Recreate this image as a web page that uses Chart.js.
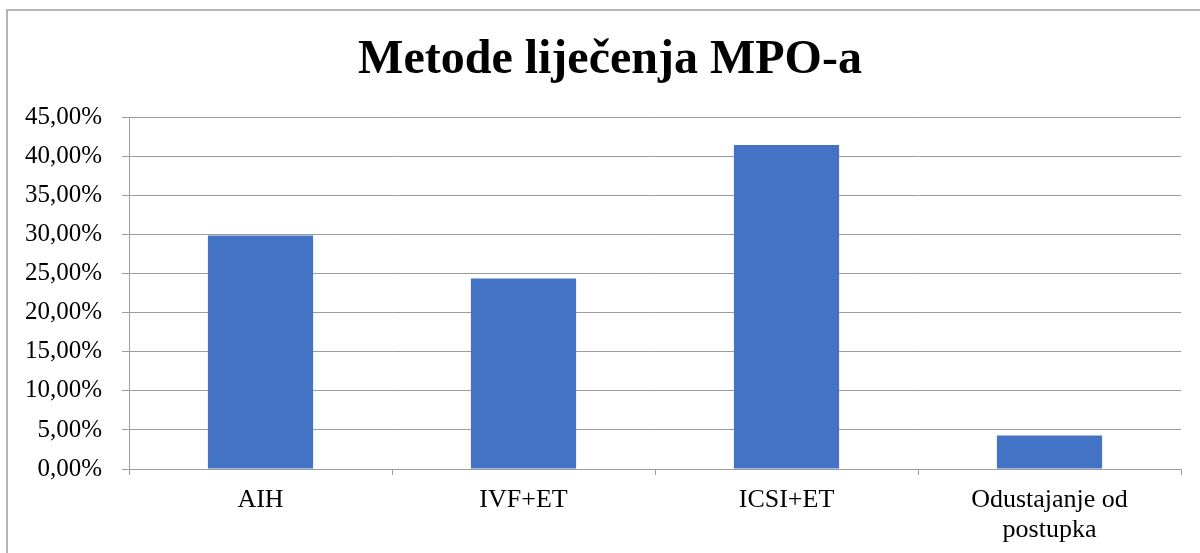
<!DOCTYPE html>
<html>
<head>
<meta charset="utf-8">
<title>Metode liječenja MPO-a</title>
<script src="https://cdn.jsdelivr.net/npm/chart.js@4/dist/chart.umd.min.js"></script>
<style>
    body { margin: 0; background: #fff; }
    canvas { display: block; }
</style>
</head>
<body>
<canvas id="mpoChart" width="1200" height="553"></canvas>
<script>
// Treatment methods and their share (in percent)
const methods = ['AIH', 'IVF+ET', 'ICSI+ET', ['Odustajanje od', 'postupka']];
const shares = [29.9, 24.4, 41.5, 4.3];
const yMax = 45;
const yStep = 5;

const serif = "'Liberation Serif', 'Times New Roman', serif";
const gridGray = '#9c9c9c';

// Outer frame around the whole chart (runs off the right/bottom edge)
const framePlugin = {
    id: 'frame',
    afterLayout(chart) {
        // let the y labels use the space left of the padding (avoids clipping)
        chart.scales.y.left = 0;
    },
    beforeDraw(chart) {
        const c = chart.ctx;
        c.save();
        c.fillStyle = '#fff';
        c.fillRect(0, 0, chart.width, chart.height);
        c.strokeStyle = '#b4b4b4';
        c.lineWidth = 2;
        c.strokeRect(7, 10, 1400, 1000);
        c.restore();
    }
};

const ctx = document.getElementById('mpoChart').getContext('2d');
const mpoChart = new Chart(ctx, {
    type: 'bar',
    data: {
        labels: methods,
        datasets: [{
            data: shares,
            backgroundColor: '#4472c4',
            borderWidth: 0,
            categoryPercentage: 1,
            barPercentage: 0.4
        }]
    },
    options: {
        responsive: false,
        animation: false,
        // uneven side padding keeps the title centred on the plot frame
        layout: { padding: { left: 39, right: 19, top: 0, bottom: 0 } },
        plugins: {
            legend: { display: false },
            tooltip: { enabled: false },
            title: {
                display: true,
                text: 'Metode liječenja MPO-a',
                color: '#000',
                font: { family: serif, size: 48, weight: 'bold', lineHeight: 1.2 },
                padding: { top: 32, bottom: 28 }
            }
        },
        scales: {
            x: {
                grid: {
                    display: true,
                    drawOnChartArea: false,
                    offset: true,
                    tickLength: 6,
                    color: gridGray
                },
                border: { display: true, color: gridGray },
                ticks: {
                    color: '#000',
                    maxRotation: 0,
                    autoSkip: false,
                    padding: 10,
                    font: { family: serif, size: 26, lineHeight: 1.15 }
                },
                afterFit(scale) { scale.height = 84; }
            },
            y: {
                min: 0,
                max: yMax,
                grid: { color: gridGray, tickLength: 7 },
                border: { display: true, color: gridGray },
                ticks: {
                    stepSize: yStep,
                    color: '#000',
                    padding: 20,
                    font: { family: serif, size: 25 },
                    callback: v => v.toFixed(2).replace('.', ',') + '%'
                },
                afterFit(scale) { scale.width = 90; }
            }
        }
    },
    plugins: [framePlugin]
});
</script>
</body>
</html>
